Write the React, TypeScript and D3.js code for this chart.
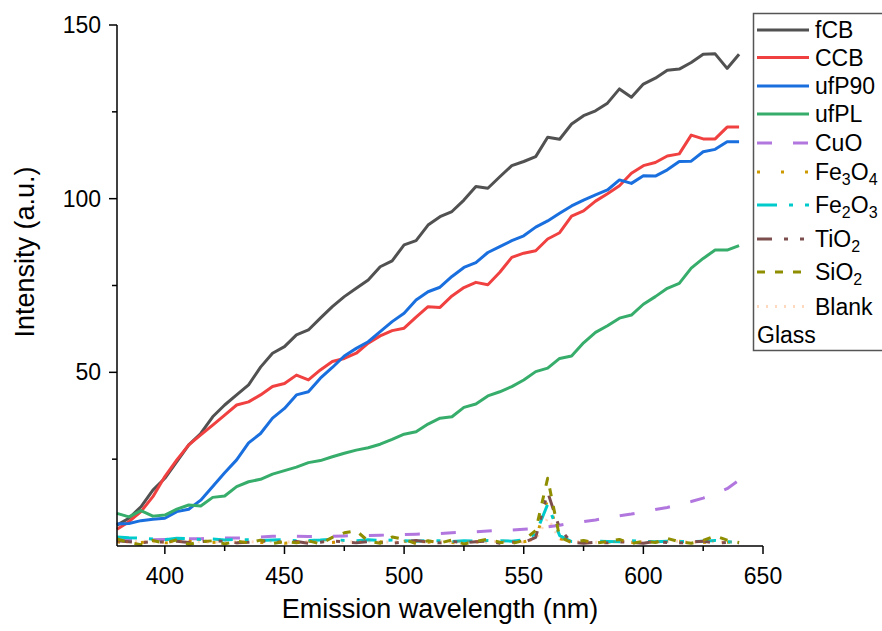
import React from "react";
import * as d3 from "d3";

const wavelengths = [380,385,390,395,400,405,410,415,420,425,430,435,440,445,450,455,460,465,470,475,480,485,490,495,500,505,510,515,520,525,530,535,540,545,550,555,560,565,570,575,580,585,590,595,600,605,610,615,620,625,630,635,640];

const fCB = [6.0,8.0,11.3,16.1,19.5,24.3,29.1,32.4,37.2,40.6,43.5,46.4, 51.5,55.5,57.4,60.8,62.2,65.6,68.9,71.8,74.2,76.6,80.4,82.1, 86.7,87.9,92.4,94.8,96.3,99.6,103.5,103.0,106.3,109.5,110.7,112.1, 117.7,117.1,121.5,123.9,125.3,127.5,131.6,129.2,133.0,134.7,137.0,137.3, 139.2,141.6,141.7,137.5,141.6];
const CCB = [4.8,7.0,9.9,14.2,20.0,24.8,29.1,32.0,34.8,37.7,40.6,41.5, 43.5,45.9,46.8,49.2,47.8,50.7,53.1,54.0,55.5,58.4,60.5,62.0, 62.7,65.9,68.9,68.7,72.0,74.4,75.9,75.2,78.8,83.1,84.3,85.0, 88.4,90.2,95.0,96.5,99.3,101.4,103.7,107.3,109.5,110.4,112.3,112.9, 118.3,117.2,117.2,120.6,120.6];
const ufP90 = [6.3,6.5,7.3,7.7,8.0,9.9,10.6,13.2,17.1,21.1,24.8,29.7, 32.4,36.8,39.6,43.5,44.4,48.3,51.4,54.7,56.9,58.8,61.7,64.6, 67.0,70.8,73.2,74.5,77.6,80.2,81.6,84.5,86.2,87.9,89.3,91.8, 93.6,95.8,97.9,99.6,101.1,102.5,105.4,104.4,106.6,106.5,108.3,110.7, 110.8,113.5,114.2,116.4,116.4];
const ufPL = [9.4,8.4,10.2,8.6,8.9,10.6,11.8,11.5,14.0,14.4,17.1,18.5, 19.2,20.7,21.7,22.7,24.0,24.6,25.7,26.7,27.6,28.3,29.3,30.7, 32.2,32.9,35.1,36.8,37.2,39.9,40.9,43.2,44.4,45.9,47.8,50.2, 51.2,54.0,54.7,58.5,61.5,63.4,65.6,66.5,69.6,71.8,74.2,75.6, 80.0,82.8,85.2,85.2,86.5];
const CuO = [1.8,1.8,1.9,1.8,1.9,2.0,2.1,2.1,2.2,2.3,2.3,2.4, 2.6,2.8,2.9,2.8,2.7,2.7,2.8,2.9,3.0,3.0,3.1,3.2, 3.3,3.4,3.5,3.6,3.8,4.0,4.1,4.3,4.5,4.6,4.8,5.0, 5.5,6.0,6.6,7.0,7.5,8.1,8.7,9.2,9.8,10.5,11.1,11.9, 12.8,13.8,15.0,16.5,19.0];
const Fe3O4 = [1.2,0.8,1.0,1.3,0.9,1.1,1.4,0.8,1.0,1.2,0.9,1.3, 1.0,1.1,0.8,1.2,1.4,0.9,1.0,1.3,1.1,0.8,1.2,1.0, 1.4,0.9,1.1,1.3,1.0,0.8,1.2,1.1,1.0,1.3,1.2,2.0, 13.5,2.2,1.0,1.2,0.9,1.1,1.3,1.0,0.8,1.2,1.1,1.4, 0.9,1.0,1.3,1.1,0.9];
const Fe2O3 = [2.6,2.4,2.3,2.0,1.8,2.2,2.1,1.9,2.0,1.7,1.9,1.8, 1.6,1.7,1.8,1.5,1.6,1.7,1.9,1.6,1.5,1.8,1.6,1.7, 1.5,1.4,1.6,1.5,1.3,1.5,1.4,1.6,1.5,1.4,1.8,3.5, 12.0,3.0,1.3,1.2,1.4,1.3,1.2,1.5,1.3,1.2,1.4,1.3, 1.2,1.4,1.6,1.2,1.1];
const TiO2 = [1.5,1.2,0.9,1.3,1.1,1.4,1.0,1.2,1.6,1.3,0.9,1.1, 1.5,1.2,1.0,1.3,0.8,1.1,1.4,1.2,0.9,1.3,1.0,0.8, 1.2,1.6,1.1,0.9,1.3,1.0,1.2,1.4,0.8,1.1,1.0,2.5, 15.5,5.0,1.0,0.8,1.1,0.9,1.2,1.0,0.8,1.3,1.0,0.9, 1.1,1.4,0.8,1.0,0.9];
const SiO2 = [2.0,1.0,0.4,1.6,0.8,1.8,0.5,1.2,1.5,0.6,1.4,0.9, 1.7,0.7,1.3,0.9,1.5,0.6,2.5,3.8,4.4,1.4,0.8,2.6, 1.9,0.7,1.5,0.9,1.7,0.6,1.3,2.0,1.1,0.7,1.6,4.5, 19.5,2.5,1.0,1.6,0.8,1.3,1.9,0.7,1.4,1.0,2.2,1.2, 0.8,1.6,2.9,1.7,1.0];
const Blank = [1.3,1.1,1.4,1.2,1.0,1.3,1.5,1.2,1.1,1.4,1.2,1.3, 1.0,1.4,1.2,1.1,1.3,1.5,1.2,1.0,1.3,1.4,1.1,1.2, 1.3,1.0,1.2,1.4,1.1,1.3,1.2,1.0,1.4,1.2,1.1,2.0, 8.0,2.0,1.2,1.3,1.1,1.0,1.4,1.2,1.3,1.1,1.2,1.4, 1.0,1.3,1.2,1.1,1.2];

const xMajorTicks = [400, 450, 500, 550, 600, 650];
const xMinorTicks = [425, 475, 525, 575, 625];
const yMajorTicks = [50, 100, 150];
const yMinorTicks = [25, 75, 125];

type Series = { name: string; sub?: [string, string, string, string]; values: number[]; color: string; dash?: string; opacity?: number };

const series: Series[] = [
  { name: "fCB", values: fCB, color: "#515151" },
  { name: "CCB", values: CCB, color: "#F14040" },
  { name: "ufP90", values: ufP90, color: "#1A6FDF" },
  { name: "ufPL", values: ufPL, color: "#37AD6B" },
  { name: "CuO", values: CuO, color: "#B177DE", dash: "15,21" },
  { name: "Fe3O4", sub: ["Fe", "3", "O", "4"], values: Fe3O4, color: "#CC9900", dash: "3,21" },
  { name: "Fe2O3", sub: ["Fe", "2", "O", "3"], values: Fe2O3, color: "#00CBCC", dash: "20,12,4,12" },
  { name: "TiO2", sub: ["Ti", "", "O", "2"], values: TiO2, color: "#7D4E4E", dash: "15,12,4,12,4,12" },
  { name: "SiO2", sub: ["Si", "", "O", "2"], values: SiO2, color: "#8E8E00", dash: "8,10" },
  { name: "Blank", values: Blank, color: "#FB6501", dash: "2,7", opacity: 0.25 },
];

const legendY = [30, 57.5, 86, 114, 143, 172, 205, 239, 272, 306.5];

const FONT = "'Liberation Sans', Arial, sans-serif";

export default function App() {
  const W = 882, H = 631;
  const x = d3.scaleLinear().domain([380, 650]).range([117, 763]);
  const y = d3.scaleLinear().domain([0, 150]).range([546, 25]);
  const line = (vals: number[]) =>
    d3.line<number>().x((_, i) => x(wavelengths[i])).y((d) => y(d))(vals) || "";

  return (
    <svg width={W} height={H} style={{ position: "absolute", left: 0, top: 0, background: "#fff" }} fontFamily={FONT}>
      <rect x={0} y={0} width={W} height={H} fill="#fff" />
      {series.map((s) => (
        <path key={s.name} d={line(s.values)} fill="none" stroke={s.color} strokeWidth={3}
          strokeDasharray={s.dash} strokeOpacity={s.opacity ?? 1} strokeLinejoin="round" />
      ))}
      {/* axes */}
      <line x1={x(380)} x2={x(650)} y1={y(0)} y2={y(0)} stroke="#000" strokeWidth={1.5} />
      <line x1={x(380)} x2={x(380)} y1={y(0)} y2={y(150)} stroke="#000" strokeWidth={1.5} />
      {xMajorTicks.map((t) => (
        <g key={"xm" + t}>
          <line x1={x(t)} x2={x(t)} y1={y(0)} y2={y(0) + 8} stroke="#000" strokeWidth={1.5} />
          <text x={x(t)} y={y(0) + 38} textAnchor="middle" fontSize={23}>{t}</text>
        </g>
      ))}
      {xMinorTicks.map((t) => (
        <line key={"xn" + t} x1={x(t)} x2={x(t)} y1={y(0)} y2={y(0) + 5} stroke="#000" strokeWidth={1.5} />
      ))}
      {yMajorTicks.map((t) => (
        <g key={"ym" + t}>
          <line x1={x(380)} x2={x(380) - 8} y1={y(t)} y2={y(t)} stroke="#000" strokeWidth={1.5} />
          <text x={x(380) - 16} y={y(t) + 8} textAnchor="end" fontSize={23}>{t}</text>
        </g>
      ))}
      {yMinorTicks.map((t) => (
        <line key={"yn" + t} x1={x(380)} x2={x(380) - 5} y1={y(t)} y2={y(t)} stroke="#000" strokeWidth={1.5} />
      ))}
      <text x={440} y={618} textAnchor="middle" fontSize={27}>Emission wavelength (nm)</text>
      <text transform={`translate(34,252) rotate(-90)`} textAnchor="middle" fontSize={27}>Intensity (a.u.)</text>
      {/* legend */}
      <rect x={753.5} y={13.5} width={140} height={337} fill="#fff" stroke="#555" strokeWidth={1.5} />
      {series.map((s, i) => (
        <g key={"lg" + s.name}>
          <line x1={757} x2={809} y1={legendY[i]} y2={legendY[i]} stroke={s.color} strokeWidth={3}
            strokeDasharray={s.dash} strokeOpacity={s.opacity ?? 1} />
          <text x={815} y={legendY[i] + 8} fontSize={23}>
            {s.sub ? (
              <>
                <tspan>{s.sub[0]}</tspan>
                {s.sub[1] && <tspan fontSize={16} dy={5}>{s.sub[1]}</tspan>}
                <tspan dy={s.sub[1] ? -5 : 0}>{s.sub[2]}</tspan>
                <tspan fontSize={16} dy={5}>{s.sub[3]}</tspan>
              </>
            ) : s.name}
          </text>
        </g>
      ))}
      <text x={757} y={343} fontSize={23}>Glass</text>
    </svg>
  );
}
